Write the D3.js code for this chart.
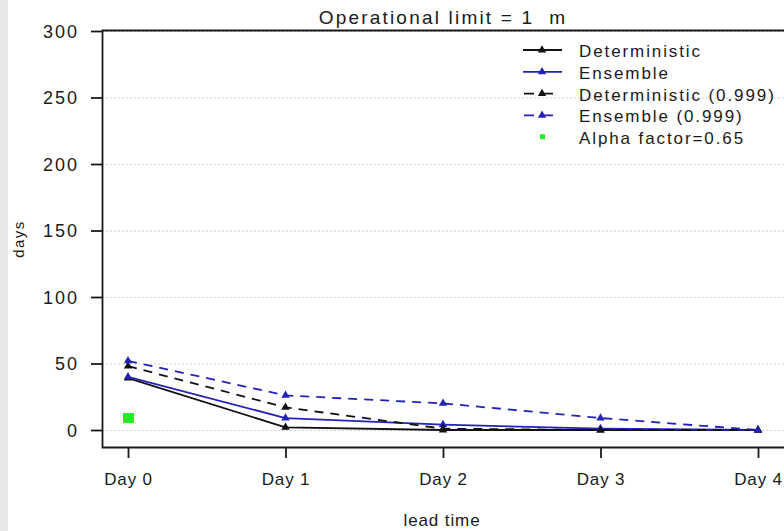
<!DOCTYPE html>
<html>
<head>
<meta charset="utf-8">
<script src="https://cdn.jsdelivr.net/npm/d3@7"></script>
<style>
  html, body { margin: 0; padding: 0; background: #fff; }
  svg { display: block; font-family: "Liberation Sans", Arial, sans-serif; }
</style>
</head>
<body>
<svg id="chart" width="784" height="531"></svg>
<script>
// Lead times on the x axis
const leadTimes = ["Day 0", "Day 1", "Day 2", "Day 3", "Day 4"];
// Days above the operational limit per lead time
const deterministic = [39, 2, 0, 0, 0];
const ensemble = [40, 9, 4, 1, 0];
const deterministic999 = [48, 17, 1, 0, 0];
const ensemble999 = [52, 26, 20, 9, 0];
// Alpha factor point (lead time index, days)
const alphaPoint = [{ i: 0, v: 9 }];
const alphaLabel = "Alpha factor=0.65";
const yTicks = [0, 50, 100, 150, 200, 250, 300];
const chartTitle = "Operational limit = 1  m";

const svg = d3.select("#chart");
const W = 784, H = 531;
const ink = "#1a1a1a";

const plotLeft = 102, plotTop = 30, plotRight = 800, plotBottom = 447;

const x = d3.scaleLinear().domain([0, 4]).range([128, 758]);
const y = d3.scaleLinear().domain([0, 300]).range([430, 31]);

// light strip on the left edge
svg.append("rect").attr("x", 0).attr("y", 0).attr("width", 8).attr("height", H).attr("fill", "#e8e8e8");

// grid lines
svg.append("g").selectAll("line").data(yTicks).join("line")
  .attr("x1", plotLeft).attr("x2", plotRight)
  .attr("y1", d => y(d) + 0.5).attr("y2", d => y(d) + 0.5)
  .attr("stroke", "#cfcfcf").attr("stroke-width", 1).attr("stroke-dasharray", "2,2");

// frame: top, left, bottom
svg.append("path")
  .attr("d", `M${plotRight},${plotTop + 0.5}H${plotLeft + 0.5}V${plotBottom + 0.5}H${plotRight}`)
  .attr("fill", "none").attr("stroke", ink).attr("stroke-width", 1.8);

// y axis
const yAxis = d3.axisLeft(y).tickValues(yTicks).tickSize(11).tickPadding(12);
const gy = svg.append("g").attr("transform", `translate(${plotLeft},0)`).call(yAxis);
gy.select(".domain").remove();
gy.selectAll(".tick line").attr("stroke", ink).attr("stroke-width", 1.8);
gy.selectAll(".tick text").attr("font-size", 18).attr("fill", ink)
  .attr("letter-spacing", 2).attr("dy", "0.36em")
  .attr("font-family", "Liberation Sans, Arial, sans-serif");

// x axis
const xAxis = d3.axisBottom(x).tickValues(d3.range(leadTimes.length))
  .tickFormat(i => leadTimes[i]).tickSize(11);
const gx = svg.append("g").attr("transform", `translate(0,${plotBottom})`).call(xAxis);
gx.select(".domain").remove();
gx.selectAll(".tick line").attr("stroke", ink).attr("stroke-width", 1.8);
gx.selectAll(".tick text").attr("font-size", 17).attr("fill", ink)
  .attr("y", 38).attr("dy", 0).attr("letter-spacing", 0.8)
  .attr("font-family", "Liberation Sans, Arial, sans-serif");

// axis titles and chart title
svg.append("text").attr("x", 442).attr("y", 526).attr("text-anchor", "middle")
  .attr("font-size", 17).attr("letter-spacing", 0.9).attr("fill", ink).text("lead time");
svg.append("text").attr("transform", "translate(24,239) rotate(-90)")
  .attr("text-anchor", "middle").attr("font-size", 15).attr("letter-spacing", 1.4)
  .attr("fill", ink).text("days");
svg.append("text").attr("x", 443).attr("y", 24).attr("text-anchor", "middle")
  .attr("font-size", 19).attr("letter-spacing", 2.2).attr("xml:space", "preserve")
  .style("white-space", "pre").attr("fill", ink).text(chartTitle);

const blue = "#2222b8", black = "#111";
const series = [
  { name: "Deterministic", values: deterministic, color: black, dash: null },
  { name: "Ensemble", values: ensemble, color: blue, dash: null },
  { name: "Deterministic (0.999)", values: deterministic999, color: black, dash: "9,7" },
  { name: "Ensemble (0.999)", values: ensemble999, color: blue, dash: "9,7" }
];

const line = d3.line().x((d, i) => x(i)).y(d => y(d));
const marker = d3.symbol().type(d3.symbolTriangle).size(30);

series.forEach(s => {
  svg.append("path").datum(s.values)
    .attr("d", line).attr("fill", "none")
    .attr("stroke", s.color).attr("stroke-width", 1.8)
    .attr("stroke-dasharray", s.dash);
  svg.append("g").selectAll("path").data(s.values).join("path")
    .attr("transform", (d, i) => `translate(${x(i)},${y(d)})`)
    .attr("d", marker).attr("fill", s.color);
});

// alpha factor point
svg.append("g").selectAll("rect").data(alphaPoint).join("rect")
  .attr("x", d => x(d.i) - 5).attr("y", d => y(d.v) - 5)
  .attr("width", 11).attr("height", 10).attr("fill", "#22ee22");

// legend
const legendItems = series.map(s => ({ label: s.name, color: s.color, dash: s.dash, kind: "line" }))
  .concat([{ label: alphaLabel, color: "#22ee22", kind: "point" }]);
const lg = svg.append("g").selectAll("g").data(legendItems).join("g")
  .attr("transform", (d, i) => `translate(0,${50 + i * 21.8})`);
lg.filter(d => d.kind === "line").append("line")
  .attr("x1", d => d.dash ? 524 : 523).attr("x2", d => d.dash ? 557 : 562)
  .attr("y1", 0).attr("y2", 0)
  .attr("stroke", d => d.color).attr("stroke-width", 1.8)
  .attr("stroke-dasharray", d => d.dash ? "10,9" : null);
lg.filter(d => d.kind === "line").append("path")
  .attr("transform", "translate(542,0)").attr("d", marker).attr("fill", d => d.color);
lg.filter(d => d.kind === "point").append("rect")
  .attr("x", 540).attr("y", -3).attr("width", 5).attr("height", 5).attr("fill", d => d.color);
lg.append("text").attr("x", 579).attr("y", 7).attr("font-size", 17)
  .attr("letter-spacing", 1.9).attr("fill", ink)
  .text(d => d.label);
</script>
</body>
</html>
